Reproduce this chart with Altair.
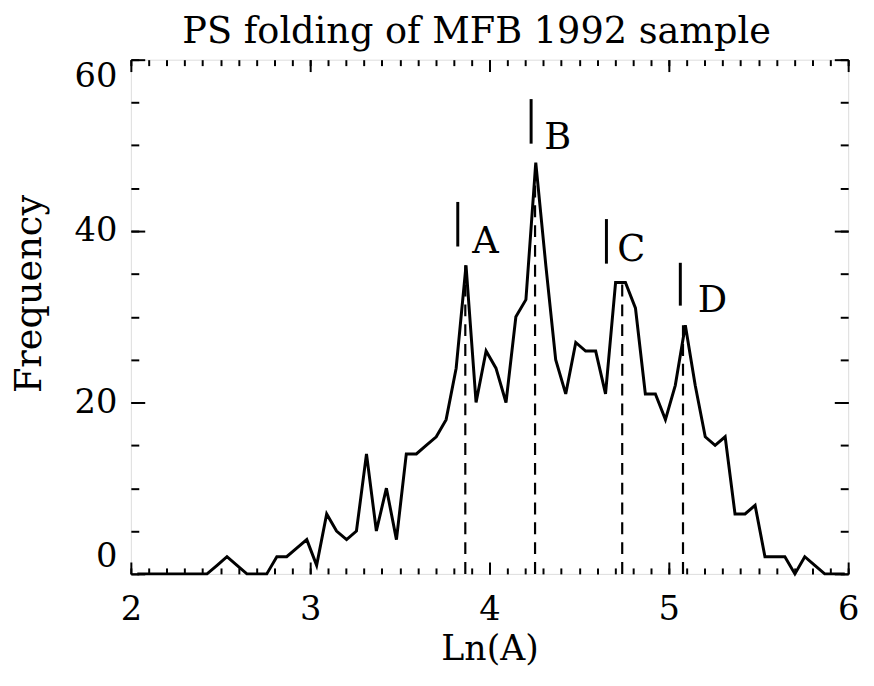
import altair as alt
import pandas as pd

# ---- data ----
bin_x = [2.036, 2.092, 2.147, 2.203, 2.258, 2.314, 2.369,
         2.425, 2.481, 2.536, 2.592, 2.647, 2.703, 2.758, 2.814, 2.869, 2.925,
         2.981, 3.036, 3.092, 3.147, 3.203, 3.258, 3.314, 3.369, 3.425, 3.481,
         3.536, 3.592, 3.647, 3.703, 3.758, 3.814, 3.869, 3.925, 3.981, 4.036,
         4.092, 4.147, 4.203, 4.258, 4.314, 4.369, 4.425, 4.481, 4.536, 4.592,
         4.647, 4.703, 4.758, 4.814, 4.869, 4.925, 4.981, 5.036, 5.092, 5.147,
         5.203, 5.258, 5.314, 5.369, 5.425, 5.481, 5.536, 5.592, 5.647, 5.703,
         5.758, 5.814, 5.869, 5.925, 5.981]
freq = [0, 0, 0, 0, 0, 0, 0,
        0, 1, 2, 1, 0, 0, 0, 2, 2, 3,
        4, 1, 7, 5, 4, 5, 14, 5, 10, 4,
        14, 14, 15, 16, 18, 24, 36, 20, 26, 24,
        20, 30, 32, 48, 36, 25, 21, 27, 26, 26,
        21, 34, 34, 31, 21, 21, 18, 22, 29, 22,
        16, 15, 16, 7, 7, 8, 2, 2, 2, 0,
        2, 1, 0, 0, 0]

peak_x = [3.865, 4.254, 4.740, 5.079]
peak_base = [0, 0, 0, 0]
peak_top = [36, 48, 34, 29]

mark_x = [3.823, 4.232, 4.652, 5.064]
mark_lo = [38.2, 50.2, 36.2, 31.3]
mark_hi = [43.4, 55.4, 41.4, 36.3]

lab_names = ["A", "B", "C", "D"]
lab_x = [3.978, 4.381, 4.790, 5.243]
lab_y = [38.7, 50.9, 37.8, 31.8]

x_major = [2, 3, 4, 5, 6]
x_minor = [2.0, 2.1, 2.2, 2.3, 2.4, 2.5, 2.6, 2.7, 2.8, 2.9,
           3.0, 3.1, 3.2, 3.3, 3.4, 3.5, 3.6, 3.7, 3.8, 3.9,
           4.0, 4.1, 4.2, 4.3, 4.4, 4.5, 4.6, 4.7, 4.8, 4.9,
           5.0, 5.1, 5.2, 5.3, 5.4, 5.5, 5.6, 5.7, 5.8, 5.9, 6.0]
y_major = [0, 20, 40, 60]
y_minor = [0, 5, 10, 15, 20, 25, 30, 35, 40, 45, 50, 55, 60]

FONT = "DejaVu Serif"

line_df = pd.DataFrame({"x": bin_x, "y": freq})
peak_df = pd.DataFrame({"x": peak_x, "y0": peak_base, "y1": peak_top})
mark_df = pd.DataFrame({"x": mark_x, "y0": mark_lo, "y1": mark_hi})
lab_df = pd.DataFrame({"x": lab_x, "y": lab_y, "t": lab_names})

xs = alt.Scale(domain=[2, 6], nice=False, zero=False)
ys = alt.Scale(domain=[0, 60], nice=False, zero=False)


def tick_axis(orient, values, size, title=None, labels=False, **kw):
    return alt.Axis(orient=orient, values=values, offset=-size, tickSize=size,
                    tickWidth=2, tickColor="black", domain=False, grid=False,
                    labels=labels, title=title, **kw)


main_x_axis = tick_axis(
    "bottom", x_major, 12, title="Ln(A)", labels=True,
    labelFont=FONT, labelFontSize=34, labelColor="black", labelPadding=19,
    labelFlush=False, labelOverlap=False,
    titleFont=FONT, titleFontSize=35, titleFontWeight="normal",
    titleColor="black", titlePadding=5)
main_y_axis = tick_axis(
    "left", y_major, 14, title="Frequency", labels=True,
    labelFont=FONT, labelFontSize=34, labelColor="black", labelPadding=14,
    labelFlush=True, labelOverlap=False,
    titleFont=FONT, titleFontSize=37, titleFontWeight="normal",
    titleColor="black", titlePadding=26, titleY=236)

dashed = alt.Chart(peak_df).mark_rule(
    color="black", strokeWidth=2.2, strokeDash=[12, 8]
).encode(
    x=alt.X("x:Q", scale=xs, axis=tick_axis("bottom", x_minor, 6)),
    y=alt.Y("y0:Q", scale=ys, axis=tick_axis("left", y_minor, 8)),
    y2="y1:Q",
)

line = alt.Chart(line_df).mark_line(
    color="black", strokeWidth=3, strokeJoin="miter"
).encode(
    x=alt.X("x:Q", scale=xs, axis=main_x_axis),
    y=alt.Y("y:Q", scale=ys, axis=main_y_axis),
)

markers = alt.Chart(mark_df).mark_rule(color="black", strokeWidth=3).encode(
    x=alt.X("x:Q", scale=xs, axis=tick_axis("top", x_major, 12)),
    y=alt.Y("y0:Q", scale=ys, axis=tick_axis("right", y_major, 14)),
    y2="y1:Q",
)

labels = alt.Chart(lab_df).mark_text(
    font=FONT, fontSize=37, color="black", align="center", baseline="middle"
).encode(
    x=alt.X("x:Q", scale=xs, axis=tick_axis("top", x_minor, 6)),
    y=alt.Y("y:Q", scale=ys, axis=tick_axis("right", y_minor, 8)),
    text="t:N",
)

chart = alt.layer(dashed, line, markers, labels).resolve_axis(
    x="independent", y="independent"
).properties(
    width=724,
    height=519,
    autosize=alt.AutoSizeParams(type="none"),
    padding={"left": 124, "top": 49, "right": 18, "bottom": 110},
    title=alt.TitleParams(
        "PS folding of MFB 1992 sample", font=FONT, fontSize=37,
        fontWeight="normal", color="black", anchor="middle",
        offset=8, dx=-13,
    ),
).configure_view(
    stroke="black", strokeWidth=2
).configure(background="white")

chart.save("out.html", embed_options={"renderer": "svg", "actions": False})
